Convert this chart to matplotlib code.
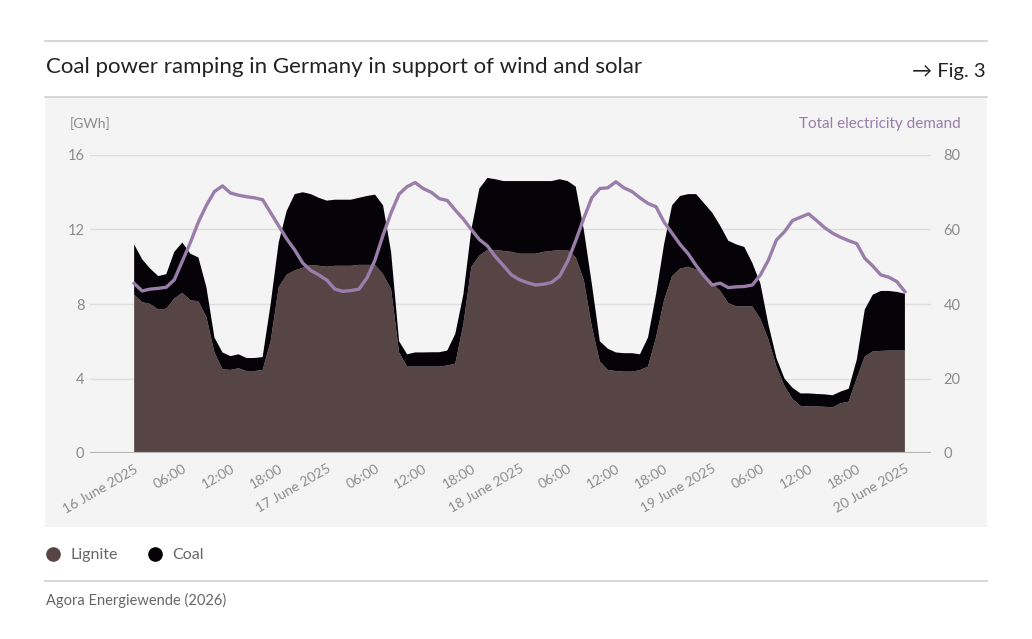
import matplotlib
matplotlib.use("Agg")
import matplotlib.pyplot as plt
import pandas as pd
from matplotlib.lines import Line2D
from matplotlib.patches import Rectangle

# ---------------- data (hourly, 16 June 2025 00:00 -> 20 June 2025 00:00) ----------------
start = "2025-06-16 00:00"

lignite = [8.5, 8.1, 8.0, 7.7, 7.75, 8.3, 8.6, 8.2, 8.15, 7.3,
           5.4, 4.5, 4.46, 4.55, 4.4, 4.4, 4.46, 6.0, 8.9, 9.57,
           9.8, 9.95, 10.1, 10.05, 10.0, 10.05, 10.05, 10.05, 10.1, 10.1,
           10.1, 9.6, 8.8, 5.4, 4.64, 4.64, 4.64, 4.64, 4.64, 4.7,
           4.8, 6.9, 10.0, 10.6, 10.9, 10.9, 10.85, 10.8, 10.7, 10.7,
           10.7, 10.8, 10.85, 10.9, 10.9, 10.5, 9.3, 6.8, 4.9, 4.46,
           4.4, 4.37, 4.37, 4.45, 4.64, 6.2, 8.2, 9.5, 9.9, 10.0,
           9.85, 9.6, 9.1, 8.7, 8.05, 7.87, 7.87, 7.87, 7.2, 6.1,
           4.64, 3.6, 2.9, 2.53, 2.5, 2.5, 2.48, 2.45, 2.67, 2.76,
           4.0, 5.18, 5.45, 5.48, 5.5, 5.5, 5.5]

coal = [2.7, 2.3, 1.9, 1.8, 1.85, 2.5, 2.7, 2.5, 2.35, 1.6,
        0.8, 0.9, 0.74, 0.75, 0.7, 0.7, 0.69, 2.0, 2.4, 3.43,
        4.1, 4.05, 3.8, 3.65, 3.55, 3.55, 3.55, 3.55, 3.6, 3.7,
        3.77, 3.7, 2.0, 0.6, 0.66, 0.76, 0.76, 0.77, 0.77, 0.8,
        1.6, 1.6, 2.0, 3.6, 3.87, 3.8, 3.75, 3.8, 3.9, 3.9,
        3.9, 3.8, 3.75, 3.8, 3.7, 3.8, 2.7, 2.3, 1.1, 1.14,
        1.0, 0.99, 0.99, 0.85, 1.56, 2.3, 3.0, 3.8, 3.9, 3.9,
        4.05, 3.8, 3.8, 3.5, 3.35, 3.33, 3.19, 2.33, 1.9, 0.8,
        0.46, 0.4, 0.6, 0.67, 0.7, 0.67, 0.67, 0.65, 0.63, 0.69,
        1.0, 2.52, 3.05, 3.22, 3.2, 3.15, 3.05]

demand = [45.5, 43.5, 44.0, 44.2, 44.5, 46.5, 51.5, 56.5, 62.0, 66.5,
          70.2, 71.7, 69.8, 69.2, 68.8, 68.5, 68.0, 64.5, 61.0, 57.5,
          54.5, 51.0, 49.0, 47.8, 46.4, 44.0, 43.4, 43.6, 44.0, 47.0,
          51.8, 58.5, 64.5, 69.5, 71.5, 72.6, 71.0, 70.0, 68.3, 67.8,
          65.2, 62.8, 60.0, 57.3, 55.6, 52.7, 50.3, 47.8, 46.5, 45.7,
          45.1, 45.3, 45.8, 47.5, 51.5, 57.0, 63.0, 68.5, 71.0, 71.2,
          72.8, 71.2, 70.2, 68.5, 67.0, 66.1, 62.0, 59.0, 56.0, 53.5,
          50.3, 47.5, 45.1, 45.6, 44.4, 44.6, 44.7, 45.1, 47.8, 51.8,
          57.2, 59.4, 62.4, 63.3, 64.2, 62.4, 60.5, 59.0, 57.9, 57.0,
          56.2, 52.3, 50.2, 47.8, 47.2, 46.0, 43.3]

tick_labels = ["16 June 2025", "06:00", "12:00", "18:00",
               "17 June 2025", "06:00", "12:00", "18:00",
               "18 June 2025", "06:00", "12:00", "18:00",
               "19 June 2025", "06:00", "12:00", "18:00",
               "20 June 2025"]
left_ticks = [0, 4, 8, 12, 16]
right_ticks = [0, 20, 40, 60, 80]

# ---------------- style ----------------
FONT = "Lato"
C_LIG = "#574545"
C_COAL = "#050308"
C_DEM = "#9a7dab"
C_TXT = "#8c8c8c"
C_GRID = "#dedede"
BG = "#f4f4f4"

W, H = 1032, 639
fig = plt.figure(figsize=(W / 100, H / 100), dpi=100)
plt.rcParams["font.family"] = [FONT, "DejaVu Sans"]

def fx(px):
    return px / W

def fy(py):
    return 1 - py / H

# rules and panel
fig.add_artist(Line2D([fx(45), fx(987)], [fy(41), fy(41)], color="#cfcfcf", lw=1.2))
fig.add_artist(Line2D([fx(45), fx(987)], [fy(97), fy(97)], color="#cfcfcf", lw=1.2))
fig.add_artist(Line2D([fx(45), fx(987)], [fy(581), fy(581)], color="#cfcfcf", lw=1.2))
fig.add_artist(Rectangle((fx(45), fy(527)), fx(987) - fx(45), fy(98) - fy(527),
                         facecolor=BG, edgecolor="none", zorder=0))

fig.text(fx(46), fy(67), "Coal power ramping in Germany in support of wind and solar",
         fontsize=16, color="#222222", va="center", ha="left")
fig.text(fx(986), fy(71), "\u2192 Fig. 3", fontsize=14.5, color="#222222",
         va="center", ha="right")

fig.text(fx(70), fy(124), "[GWh]", fontsize=10, color=C_TXT, va="center", ha="left")
fig.text(fx(961), fy(124), "Total electricity demand", fontsize=11, color=C_DEM,
         va="center", ha="right")

# axes
ax = fig.add_axes([fx(90), fy(453), fx(931) - fx(90), fy(155) - fy(453)])
ax.set_facecolor("none")
x = pd.date_range(start, periods=len(lignite), freq="h")

ax.stackplot(x, lignite, coal, colors=[C_LIG, C_COAL], linewidth=0, zorder=2)
ax.set_ylim(0, 16)
ax.set_yticks(left_ticks)
ax.set_xlim(x[0] - pd.Timedelta(hours=5.5), x[-1] + pd.Timedelta(hours=3.25))
xt = pd.date_range(start, periods=len(tick_labels), freq="6h")
ax.set_xticks(xt)
ax.set_xticklabels(tick_labels, rotation=30, ha="right", rotation_mode="anchor")
ax.grid(axis="y", color=C_GRID, lw=1, zorder=0)
ax.set_axisbelow(True)
for s in ax.spines.values():
    s.set_visible(False)
ax.axhline(0, color="#b5b5b5", lw=1.6, zorder=3)
ax.tick_params(axis="y", length=0, pad=4, labelsize=10.5, labelcolor=C_TXT)
ax.tick_params(axis="x", length=0, pad=7, labelsize=10, labelcolor=C_TXT)

ax2 = ax.twinx()
ax2.plot(x, demand, color=C_DEM, lw=2.4, zorder=4, solid_joinstyle="round")
ax2.set_ylim(0, 80)
ax2.set_yticks(right_ticks)
for s in ax2.spines.values():
    s.set_visible(False)
ax2.tick_params(axis="y", length=0, pad=9, labelsize=10.5, labelcolor=C_TXT)

# legend
handles = [Line2D([], [], marker="o", ls="none", color=C_LIG, markersize=9.5),
           Line2D([], [], marker="o", ls="none", color=C_COAL, markersize=9.5)]
fig.legend(handles, ["Lignite", "Coal"], loc="center left",
           bbox_to_anchor=(fx(43), fy(555)), frameon=False, ncol=2,
           borderpad=0, borderaxespad=0, handlelength=1.2,
           handletextpad=0.5, columnspacing=1.75, fontsize=11.5, labelcolor="#666666")

fig.text(fx(46), fy(600), "Agora Energiewende (2026)", fontsize=10.5, color="#666666",
         va="center", ha="left")

fig.savefig("out.png", dpi=100, facecolor="white")
